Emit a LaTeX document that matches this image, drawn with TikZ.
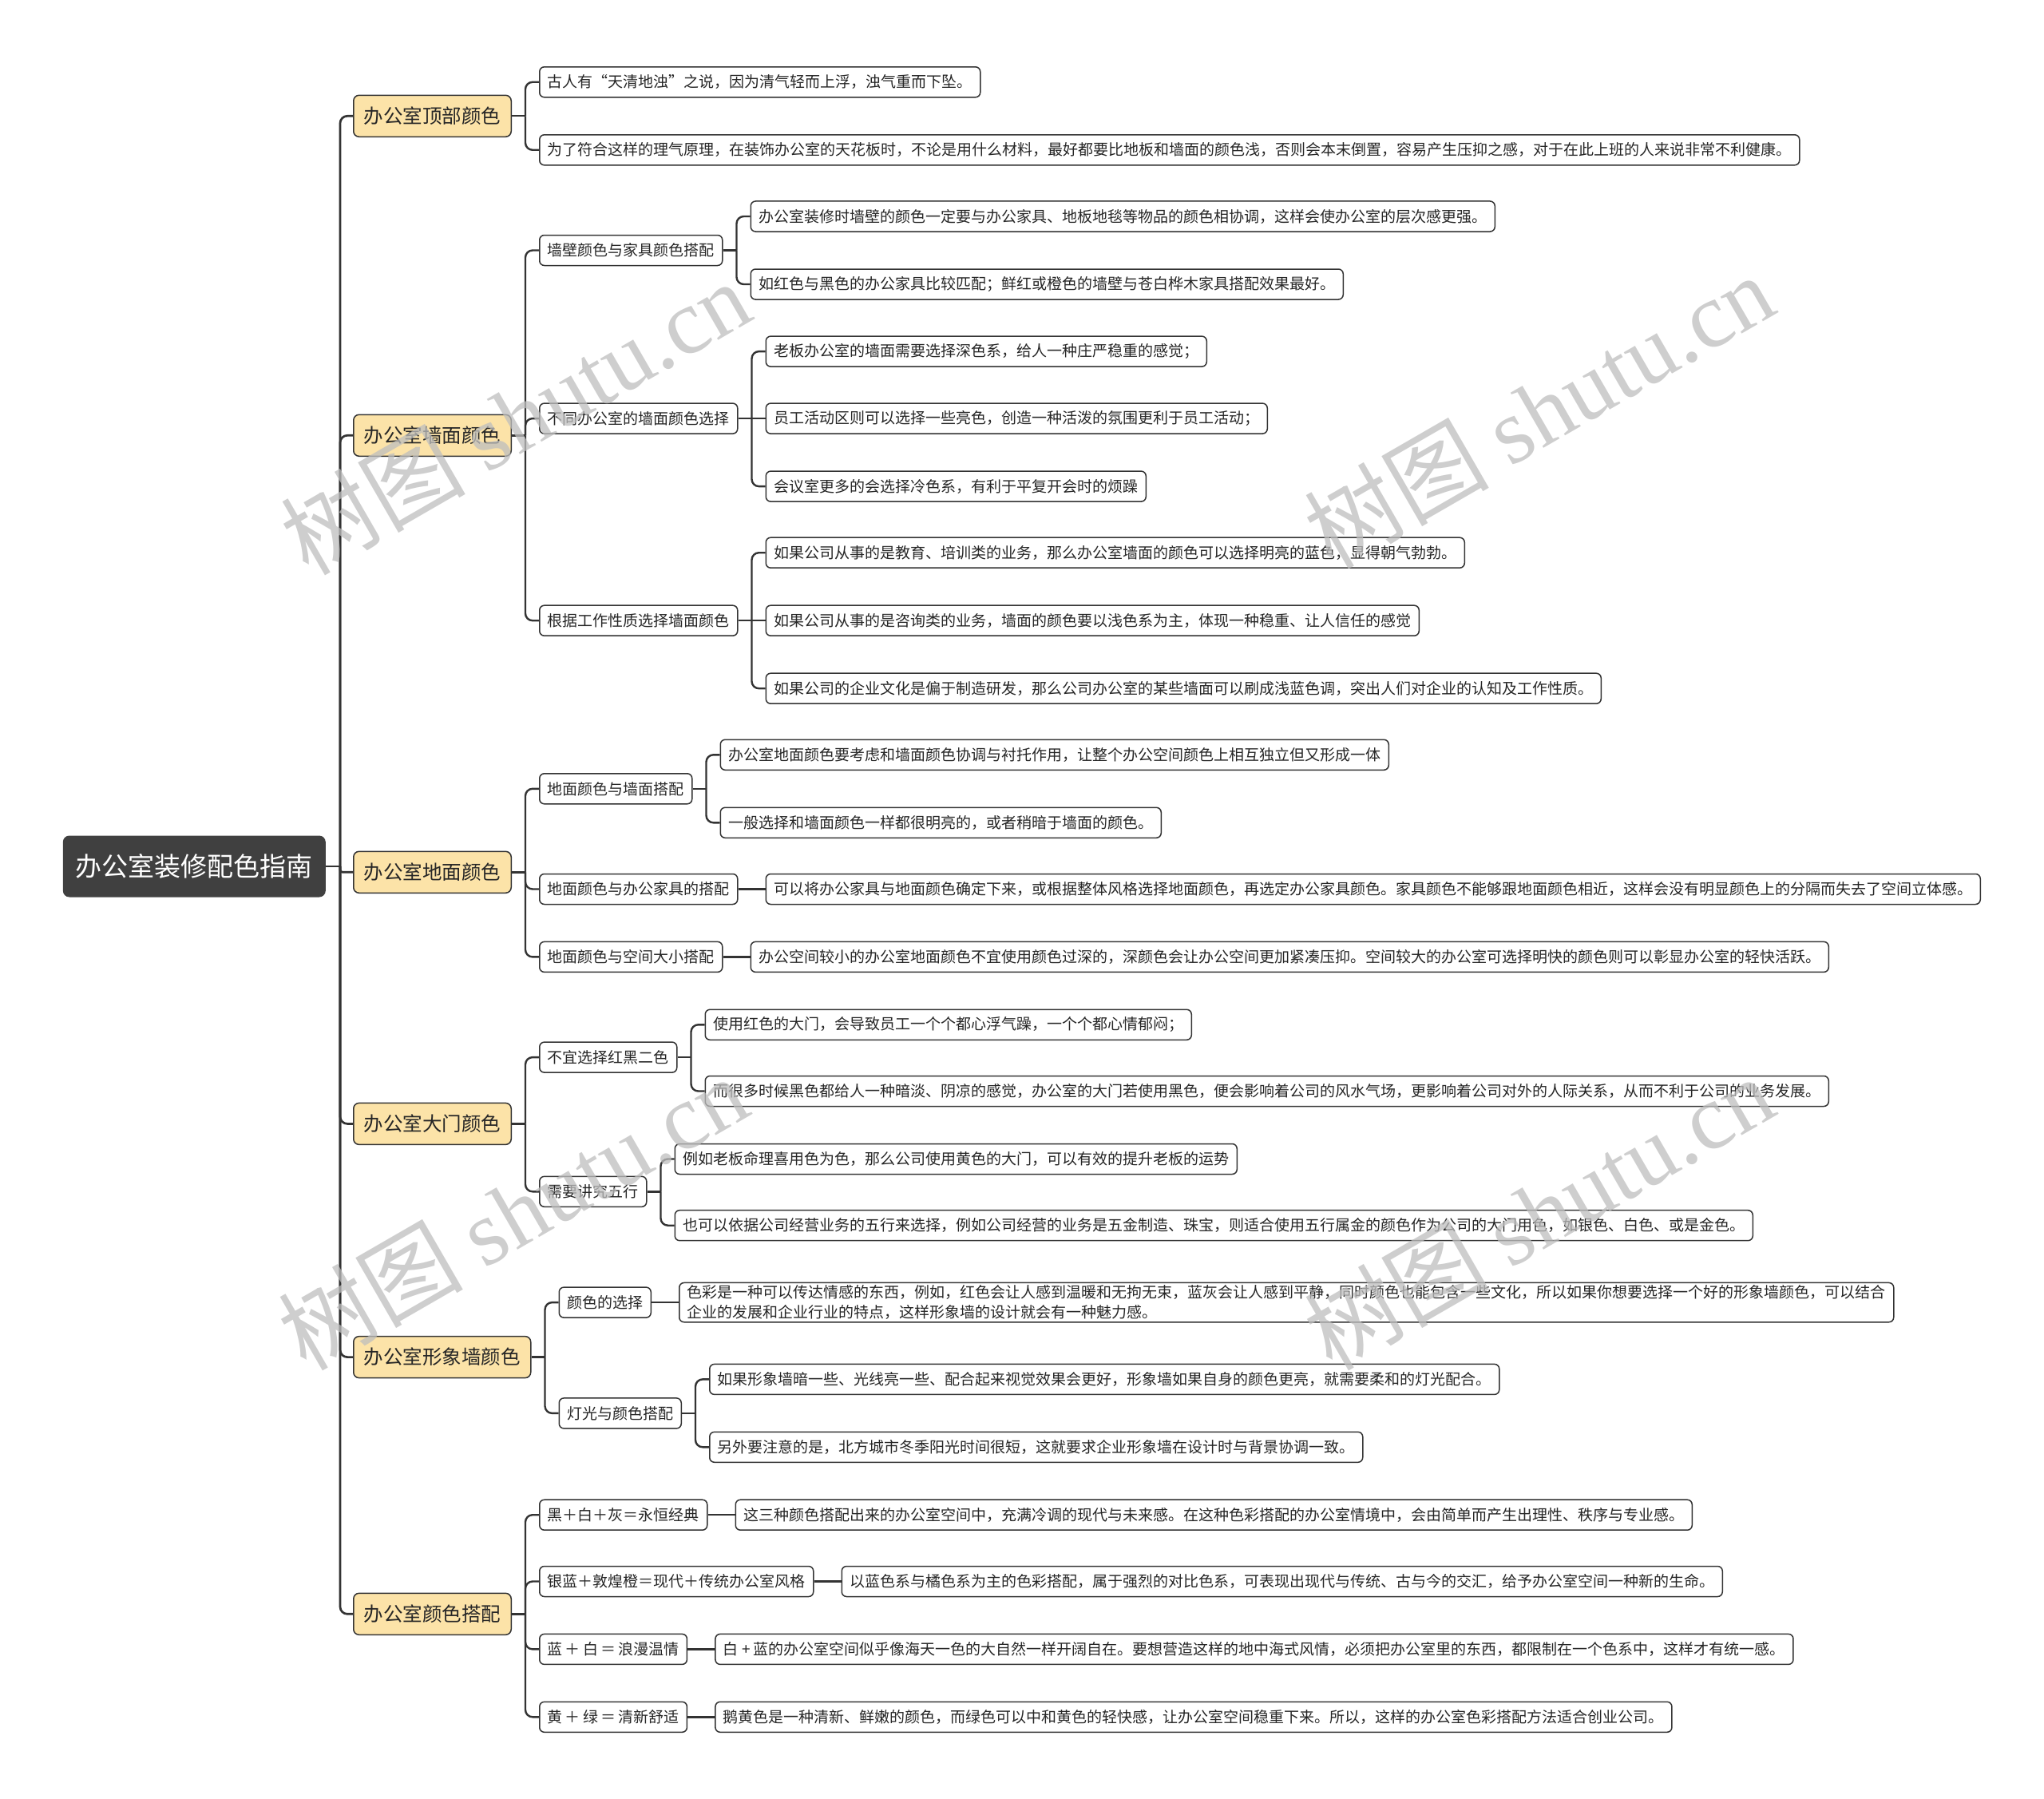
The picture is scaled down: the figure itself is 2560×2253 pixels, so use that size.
\documentclass[tikz,border=0pt]{standalone}
\usepackage{fontspec}
\setmainfont{Noto Sans CJK SC}
\newfontfamily\wmserif{Liberation Serif}
\usetikzlibrary{positioning}

\definecolor{linegray}{RGB}{51,51,51}
\definecolor{topicfill}{RGB}{252,227,168}
\definecolor{rootfill}{RGB}{64,64,64}
\definecolor{markgray}{RGB}{190,190,190}

\tikzset{
  rootbox/.style={fill=rootfill, text=white, rounded corners=8, minimum height=77, inner xsep=16, anchor=east, font=\fontsize{33}{38}\selectfont},
  topic/.style={draw=linegray, line width=1.5, fill=topicfill, text=black!85, rounded corners=7, minimum height=52, inner xsep=13, anchor=west, font=\fontsize{24.5}{29}\selectfont},
  sub/.style={draw=linegray, line width=1.5, fill=white, text=black!85, rounded corners=6, minimum height=38, inner xsep=10, font=\fontsize{19}{24.5}\selectfont},
  leaf/.style={sub, align=left},
  link/.style={draw=linegray, line width=2.4, rounded corners=9},
  trunk/.style={link, line width=2.7},
  wmark/.style={text=markgray, opacity=0.75, rotate=30, font=\fontsize{116}{126}\selectfont}
}

\begin{document}
\begin{tikzpicture}[x=1pt, y=1pt]
  \useasboundingbox (0,0) rectangle (2560,-2253);

  \node[rootbox] (root) at (408,-1085) {办公室装修配色指南};

  \node[topic] (top) at (442,-145.3) {办公室顶部颜色};
  \node[topic] (wall) at (442,-545.3) {办公室墙面颜色};
  \node[topic] (floor) at (442,-1092.3) {办公室地面颜色};
  \node[topic] (door) at (442,-1407.4) {办公室大门颜色};
  \node[topic] (image) at (442,-1699.6) {办公室形象墙颜色};
  \node[topic] (match) at (442,-2021.3) {办公室颜色搭配};

  % ceiling
  \node[leaf, right=34pt of top, yshift=42.5pt] (top1) {古人有“天清地浊”之说，因为清气轻而上浮，浊气重而下坠。};
  \node[leaf, right=34pt of top, yshift=-42.5pt] (top2) {为了符合这样的理气原理，在装饰办公室的天花板时，不论是用什么材料，最好都要比地板和墙面的颜色浅，否则会本末倒置，容易产生压抑之感，对于在此上班的人来说非常不利健康。};

  % walls
  \node[sub, right=34pt of wall, yshift=231.8pt] (wa) {墙壁颜色与家具颜色搭配};
  \node[sub, right=34pt of wall, yshift=21.2pt] (wb) {不同办公室的墙面颜色选择};
  \node[sub, right=34pt of wall, yshift=-231.9pt] (wc) {根据工作性质选择墙面颜色};
  \node[leaf, right=34pt of wa, yshift=42.5pt] (wa1) {办公室装修时墙壁的颜色一定要与办公家具、地板地毯等物品的颜色相协调，这样会使办公室的层次感更强。};
  \node[leaf, right=34pt of wa, yshift=-42.5pt] (wa2) {如红色与黑色的办公家具比较匹配；鲜红或橙色的墙壁与苍白桦木家具搭配效果最好。};
  \node[leaf, right=34pt of wb, yshift=84pt] (wb1) {老板办公室的墙面需要选择深色系，给人一种庄严稳重的感觉；};
  \node[leaf, right=34pt of wb] (wb2) {员工活动区则可以选择一些亮色，创造一种活泼的氛围更利于员工活动；};
  \node[leaf, right=34pt of wb, yshift=-85pt] (wb3) {会议室更多的会选择冷色系，有利于平复开会时的烦躁};
  \node[leaf, right=34pt of wc, yshift=85pt] (wc1) {如果公司从事的是教育、培训类的业务，那么办公室墙面的颜色可以选择明亮的蓝色，显得朝气勃勃。};
  \node[leaf, right=34pt of wc] (wc2) {如果公司从事的是咨询类的业务，墙面的颜色要以浅色系为主，体现一种稳重、让人信任的感觉};
  \node[leaf, right=34pt of wc, yshift=-85pt] (wc3) {如果公司的企业文化是偏于制造研发，那么公司办公室的某些墙面可以刷成浅蓝色调，突出人们对企业的认知及工作性质。};

  % floor
  \node[sub, right=34pt of floor, yshift=104.5pt] (fa) {地面颜色与墙面搭配};
  \node[sub, right=34pt of floor, yshift=-21.2pt] (fb) {地面颜色与办公家具的搭配};
  \node[sub, right=34pt of floor, yshift=-106.1pt] (fc) {地面颜色与空间大小搭配};
  \node[leaf, right=34pt of fa, yshift=42.5pt] (fa1) {办公室地面颜色要考虑和墙面颜色协调与衬托作用，让整个办公空间颜色上相互独立但又形成一体};
  \node[leaf, right=34pt of fa, yshift=-42.5pt] (fa2) {一般选择和墙面颜色一样都很明亮的，或者稍暗于墙面的颜色。};
  \node[leaf, right=34pt of fb] (fb1) {可以将办公家具与地面颜色确定下来，或根据整体风格选择地面颜色，再选定办公家具颜色。家具颜色不能够跟地面颜色相近，这样会没有明显颜色上的分隔而失去了空间立体感。};
  \node[leaf, right=34pt of fc] (fc1) {办公空间较小的办公室地面颜色不宜使用颜色过深的，深颜色会让办公空间更加紧凑压抑。空间较大的办公室可选择明快的颜色则可以彰显办公室的轻快活跃。};

  % door
  \node[sub, right=34pt of door, yshift=83.3pt] (da) {不宜选择红黑二色};
  \node[sub, right=34pt of door, yshift=-84.9pt] (db) {需要讲究五行};
  \node[leaf, right=34pt of da, yshift=40.8pt] (da1) {使用红色的大门，会导致员工一个个都心浮气躁，一个个都心情郁闷；};
  \node[leaf, right=34pt of da, yshift=-42.4pt] (da2) {而很多时候黑色都给人一种暗淡、阴凉的感觉，办公室的大门若使用黑色，便会影响着公司的风水气场，更影响着公司对外的人际关系，从而不利于公司的业务发展。};
  \node[leaf, right=34pt of db, yshift=40.8pt] (db1) {例如老板命理喜用色为色，那么公司使用黄色的大门，可以有效的提升老板的运势};
  \node[leaf, right=34pt of db, yshift=-42.4pt] (db2) {也可以依据公司经营业务的五行来选择，例如公司经营的业务是五金制造、珠宝，则适合使用五行属金的颜色作为公司的大门用色，如银色、白色、或是金色。};

  % image wall
  \node[sub, right=34pt of image, yshift=68.5pt] (ia) {颜色的选择};
  \node[sub, right=34pt of image, yshift=-70.3pt] (ib) {灯光与颜色搭配};
  \node[leaf, right=34pt of ia] (ia1) {色彩是一种可以传达情感的东西，例如，红色会让人感到温暖和无拘无束，蓝灰会让人感到平静，同时颜色也能包含一些文化，所以如果你想要选择一个好的形象墙颜色，可以结合\\企业的发展和企业行业的特点，这样形象墙的设计就会有一种魅力感。};
  \node[leaf, right=34pt of ib, yshift=42.5pt] (ib1) {如果形象墙暗一些、光线亮一些、配合起来视觉效果会更好，形象墙如果自身的颜色更亮，就需要柔和的灯光配合。};
  \node[leaf, right=34pt of ib, yshift=-42.4pt] (ib2) {另外要注意的是，北方城市冬季阳光时间很短，这就要求企业形象墙在设计时与背景协调一致。};

  % colour matching
  \node[sub, right=34pt of match, yshift=124.1pt] (ma) {黑＋白＋灰＝永恒经典};
  \node[sub, right=34pt of match, yshift=40.8pt] (mb) {银蓝＋敦煌橙＝现代＋传统办公室风格};
  \node[sub, right=34pt of match, yshift=-44.1pt] (mc) {蓝\,＋\,白\,＝\,浪漫温情};
  \node[sub, right=34pt of match, yshift=-129pt] (md) {黄\,＋\,绿\,＝\,清新舒适};
  \node[leaf, right=34pt of ma] (ma1) {这三种颜色搭配出来的办公室空间中，充满冷调的现代与未来感。在这种色彩搭配的办公室情境中，会由简单而产生出理性、秩序与专业感。};
  \node[leaf, right=34pt of mb] (mb1) {以蓝色系与橘色系为主的色彩搭配，属于强烈的对比色系，可表现出现代与传统、古与今的交汇，给予办公室空间一种新的生命。};
  \node[leaf, right=34pt of mc] (mc1) {白 + 蓝的办公室空间似乎像海天一色的大自然一样开阔自在。要想营造这样的地中海式风情，必须把办公室里的东西，都限制在一个色系中，这样才有统一感。};
  \node[leaf, right=34pt of md] (md1) {鹅黄色是一种清新、鲜嫩的颜色，而绿色可以中和黄色的轻快感，让办公室空间稳重下来。所以，这样的办公室色彩搭配方法适合创业公司。};

  % trunk
  \draw[trunk] (root.east) -- ++(18pt,0) coordinate (rs);
  \draw[trunk] (rs) |- (top.west);
  \draw[trunk] (rs) |- (wall.west);
  \draw[trunk, rounded corners=3] (rs) |- (floor.west);
  \draw[trunk] (rs) |- (door.west);
  \draw[trunk] (rs) |- (image.west);
  \draw[trunk] (rs) |- (match.west);

  % branches
  \draw[link] (top.east) -- ++(17pt,0) coordinate (tops);
  \draw[link] (tops) |- (top1.west);
  \draw[link] (tops) |- (top2.west);

  \draw[link] (wall.east) -- ++(17pt,0) coordinate (walls);
  \draw[link] (walls) |- (wa.west);
  \draw[link] (walls) |- (wb.west);
  \draw[link] (walls) |- (wc.west);
  \draw[link] (wa.east) -- ++(17pt,0) coordinate (was);
  \draw[link] (was) |- (wa1.west);
  \draw[link] (was) |- (wa2.west);
  \draw[link] (wb.east) -- ++(17pt,0) coordinate (wbs);
  \draw[link] (wbs) |- (wb1.west);
  \draw[link] (wbs) -- (wb2.west);
  \draw[link] (wbs) |- (wb3.west);
  \draw[link] (wc.east) -- ++(17pt,0) coordinate (wcs);
  \draw[link] (wcs) |- (wc1.west);
  \draw[link] (wcs) -- (wc2.west);
  \draw[link] (wcs) |- (wc3.west);

  \draw[link] (floor.east) -- ++(17pt,0) coordinate (floors);
  \draw[link] (floors) |- (fa.west);
  \draw[link] (floors) |- (fb.west);
  \draw[link] (floors) |- (fc.west);
  \draw[link] (fa.east) -- ++(17pt,0) coordinate (fas);
  \draw[link] (fas) |- (fa1.west);
  \draw[link] (fas) |- (fa2.west);
  \draw[link] (fb.east) -- (fb1.west);
  \draw[link] (fc.east) -- (fc1.west);

  \draw[link] (door.east) -- ++(17pt,0) coordinate (doors);
  \draw[link] (doors) |- (da.west);
  \draw[link] (doors) |- (db.west);
  \draw[link] (da.east) -- ++(17pt,0) coordinate (das);
  \draw[link] (das) |- (da1.west);
  \draw[link] (das) |- (da2.west);
  \draw[link] (db.east) -- ++(17pt,0) coordinate (dbs);
  \draw[link] (dbs) |- (db1.west);
  \draw[link] (dbs) |- (db2.west);

  \draw[link] (image.east) -- ++(17pt,0) coordinate (images);
  \draw[link] (images) |- (ia.west);
  \draw[link] (images) |- (ib.west);
  \draw[link] (ia.east) -- (ia1.west);
  \draw[link] (ib.east) -- ++(17pt,0) coordinate (ibs);
  \draw[link] (ibs) |- (ib1.west);
  \draw[link] (ibs) |- (ib2.west);

  \draw[link] (match.east) -- ++(17pt,0) coordinate (matchs);
  \draw[link] (matchs) |- (ma.west);
  \draw[link] (matchs) |- (mb.west);
  \draw[link] (matchs) |- (mc.west);
  \draw[link] (matchs) |- (md.west);
  \draw[link] (ma.east) -- (ma1.west);
  \draw[link] (mb.east) -- (mb1.west);
  \draw[link] (mc.east) -- (mc1.west);
  \draw[link] (md.east) -- (md1.west);

  % watermark
  \node[wmark] (wm1) at (645,-522) {树图 {\wmserif shutu.cn}};
  \node[wmark] (wm2) at (1927,-514) {树图 {\wmserif shutu.cn}};
  \node[wmark] (wm3) at (642,-1518) {树图 {\wmserif shutu.cn}};
  \node[wmark] (wm4) at (1927,-1518) {树图 {\wmserif shutu.cn}};
\end{tikzpicture}
\end{document}
